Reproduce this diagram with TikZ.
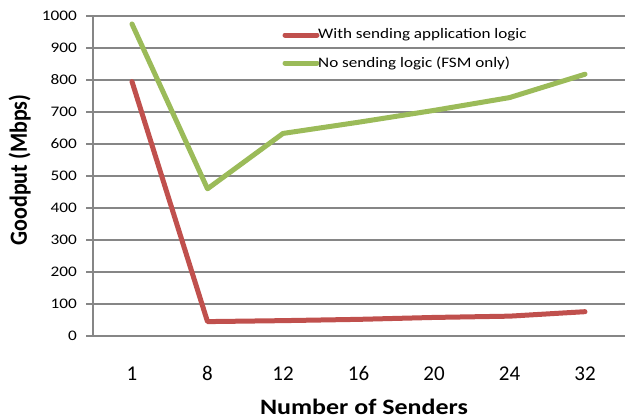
\documentclass[tikz,border=0pt]{standalone}
\usepackage{fontspec}
\usepackage{graphicx}
\setmainfont{Carlito}
\definecolor{serred}{HTML}{C0504D}
\definecolor{sergreen}{HTML}{9BBB59}
\definecolor{gridgray}{HTML}{868686}
\newcommand{\hstr}[1]{\scalebox{1.18}[1]{#1}}
\newcommand{\vstr}[1]{\scalebox{1}[1.12]{#1}}
\begin{document}
\begin{tikzpicture}[x=1pt,y=-1pt,
  gridline/.style={draw=gridgray,line width=1.5pt},
  yticklabel/.style={font=\fontsize{14.6}{15}\selectfont,inner sep=0pt},
  xticklabel/.style={font=\fontsize{21}{21}\selectfont,inner sep=0pt},
  axislabel/.style={font=\bfseries\fontsize{22}{22}\selectfont,inner sep=0pt},
  legendtext/.style={font=\fontsize{14.5}{15}\selectfont,inner sep=0pt,anchor=west},
  series/.style={line width=5pt,line cap=round,line join=round}]
\useasboundingbox (0,0) rectangle (625,418);
% grid and ticks
\foreach \v in {0,100,...,1000}{
  \pgfmathsetmacro{\yy}{336-0.32*\v}
  \draw[gridline] (86,\yy) -- (625,\yy);
  \node[yticklabel,anchor=east] (yl\v) at (77,\yy) {\hstr{\v}};
}
\draw[gridline] (93,16) -- (93,336);
% x labels
\foreach \lab [count=\i from 0] in {1,8,12,16,20,24,32}{
  \node[xticklabel,anchor=base] (xl\lab) at ({132+75.5*\i},380) {\lab};
}
% data
\foreach \lab/\r/\g [count=\i from 0] in {1/795/975,8/45/460,12/48/633,16/52/668,20/58/705,24/62/745,32/76/818}{
  \coordinate (r\i) at ({132+75.5*\i},{336-0.32*\r});
  \coordinate (g\i) at ({132+75.5*\i},{336-0.32*\g});
}
\draw[series,serred] (r0) -- (r1) -- (r2) -- (r3) -- (r4) -- (r5) -- (r6);
\draw[series,sergreen] (g0) -- (g1) -- (g2) -- (g3) -- (g4) -- (g5) -- (g6);
% legend
\coordinate (la1) at (285,35); \coordinate (lb1) at (317,35);
\coordinate (la2) at (285,63); \coordinate (lb2) at (317,63);
\draw[series,serred] (la1) -- (lb1);
\draw[series,sergreen] (la2) -- (lb2);
\node[legendtext] (lt1) at (318,35) {\hstr{With sending application logic}};
\node[legendtext] (lt2) at (318,63) {\hstr{No sending logic (FSM only)}};
% axis titles
\node[axislabel,rotate=90,anchor=base] (ytitle) at (27,170) {\vstr{Goodput (Mbps)}};
\node[axislabel,anchor=base] (xtitle) at (364,414) {\hstr{Number of Senders}};
\end{tikzpicture}
\end{document}
